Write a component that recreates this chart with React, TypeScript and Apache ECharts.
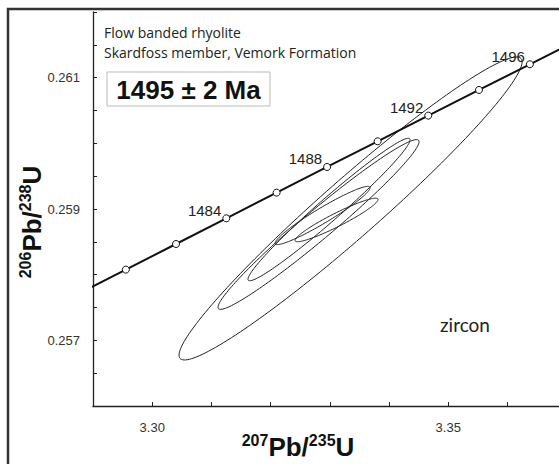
import React, { useEffect, useRef } from "react";
import * as echarts from "echarts";

// Concordia ages (Ma) and their ratio coordinates
const ages = [1478, 1480, 1482, 1484, 1486, 1488, 1490, 1492, 1494, 1496, 1498];
const concX = [3.28709, 3.29555, 3.30402, 3.31251, 3.32101, 3.32953, 3.33807, 3.34662, 3.35519, 3.36378, 3.37238];
const concY = [0.257687, 0.258077, 0.258467, 0.258858, 0.259249, 0.25964, 0.260031, 0.260422, 0.260813, 0.261204, 0.261595];
const labelAges = [1484, 1488, 1492, 1496];

// Error ellipses: centre, half extent in x and y, correlation
const ellX = [3.3335, 3.32809, 3.32986, 3.32877, 3.33113];
const ellY = [0.259008, 0.258764, 0.258992, 0.258901, 0.258833];
const ellDX = [0.02897, 0.016976, 0.013682, 0.008024, 0.00701];
const ellDY = [0.0023071, 0.0012926, 0.0010848, 0.0004436, 0.0003315];
const ellRho = [0.968, 0.975, 0.978, 0.953, 0.94];

const xLabels = [3.3, 3.35];
const yLabels = [0.257, 0.259, 0.261];

export default function App() {
  const ref = useRef<HTMLDivElement>(null);
  useEffect(() => {
    if (!ref.current) return;
    const chart = echarts.init(ref.current, undefined, { renderer: "svg" });
    const lineData = ages.map((a, i) => ({
      value: [concX[i], concY[i]],
      symbol: a === 1478 || a === 1498 ? "none" : "circle",
      label: {
        show: labelAges.includes(a),
        formatter: String(a),
      },
    }));
    const ellData = ellX.map((x, i) => [x, ellY[i], ellDX[i], ellDY[i], ellRho[i]]);
    const rich = {
      a: { fontSize: 16, fontWeight: "bold", fontFamily: "Liberation Sans", fill: "#111", lineHeight: 16, verticalAlign: "top" },
      b: { fontSize: 26, fontWeight: "bold", fontFamily: "Liberation Sans", fill: "#111", lineHeight: 30 },
    };
    const option: any = {
      animation: false,
      grid: { left: 93, top: 12, right: 0, bottom: 58 },
      xAxis: {
        type: "value",
        min: 3.29,
        max: 3.3687,
        interval: 0.01,
        axisLine: { show: true, onZero: false, lineStyle: { color: "#222", width: 1.3 } },
        axisTick: { show: true, inside: true, length: 4, lineStyle: { color: "#222" } },
        splitLine: { show: false },
        axisLabel: {
          margin: 15,
          fontSize: 13,
          color: "#333",
          fontFamily: "Liberation Sans",
          showMaxLabel: false,
          formatter: (v: number) =>
            xLabels.some((l) => Math.abs(l - v) < 1e-6) ? v.toFixed(2) : "",
        },
      },
      yAxis: {
        type: "value",
        min: 0.256,
        max: 0.262,
        interval: 0.0005,
        axisLine: { show: true, onZero: false, lineStyle: { color: "#222", width: 1.3 } },
        axisTick: { show: true, inside: true, length: 4, lineStyle: { color: "#222" } },
        splitLine: { show: false },
        axisLabel: {
          margin: 13,
          fontSize: 13,
          color: "#333",
          fontFamily: "Liberation Sans",
          formatter: (v: number) =>
            yLabels.some((l) => Math.abs(l - v) < 1e-7) ? v.toFixed(3) : "",
        },
      },
      series: [
        {
          type: "custom",
          encode: { x: 0, y: 1 },
          data: ellData,
          renderItem: (params: any, api: any) => {
            const cx = api.value(0);
            const cy = api.value(1);
            const dx = api.value(2);
            const dy = api.value(3);
            const r = api.value(4);
            const s = Math.sqrt(1 - r * r);
            const pts: number[][] = [];
            const n = 180;
            for (let k = 0; k < n; k++) {
              const t = (2 * Math.PI * k) / n;
              pts.push(
                api.coord([cx + dx * Math.cos(t), cy + dy * (r * Math.cos(t) + s * Math.sin(t))])
              );
            }
            return {
              type: "polygon",
              shape: { points: pts },
              style: { fill: "none", stroke: "#222", lineWidth: 1 },
            };
          },
          z: 2,
        },
        {
          type: "line",
          data: lineData,
          symbolSize: 7,
          itemStyle: { color: "#fff", borderColor: "#111", borderWidth: 1 },
          lineStyle: { color: "#111", width: 2 },
          label: {
            position: "left",
            distance: 1,
            offset: [0, -8],
            fontSize: 15,
            color: "#222",
            fontFamily: "Liberation Sans",
          },
          z: 3,
        },
      ],
      graphic: [
        {
          type: "rect",
          shape: { x: 8, y: 9, width: 620, height: 520 },
          style: { fill: "none", stroke: "#333", lineWidth: 2.5 },
          z: 10,
        },
        {
          type: "text",
          x: 104,
          y: 32,
          style: {
            text: "Flow banded rhyolite",
            font: "14px 'Open Sans'",
            fill: "#222",
            verticalAlign: "middle",
          },
        },
        {
          type: "text",
          x: 104,
          y: 52,
          style: {
            text: "Skardfoss member, Vemork Formation",
            font: "14px 'Open Sans'",
            fill: "#222",
            verticalAlign: "middle",
          },
        },
        {
          type: "rect",
          shape: { x: 107, y: 72, width: 163, height: 34 },
          style: { fill: "#fff", stroke: "#bbb", lineWidth: 1 },
        },
        {
          type: "text",
          x: 188.5,
          y: 89.5,
          style: {
            text: "1495 ± 2 Ma",
            font: "bold 26px Liberation Sans",
            fill: "#111",
            align: "center",
            verticalAlign: "middle",
          },
        },
        {
          type: "text",
          x: 440,
          y: 324,
          style: {
            text: "zircon",
            font: "19px Lato",
            fill: "#222",
            verticalAlign: "middle",
          },
        },
        {
          type: "text",
          x: 298,
          y: 447,
          style: {
            text: "{a|207}{b|Pb/}{a|235}{b|U}",
            align: "center",
            verticalAlign: "middle",
            rich,
          },
        },
        {
          type: "text",
          x: 32,
          y: 222,
          rotation: Math.PI / 2,
          style: {
            text: "{a|206}{b|Pb/}{a|238}{b|U}",
            align: "center",
            verticalAlign: "middle",
            rich,
          },
        },
      ],
    };
    chart.setOption(option);
    return () => chart.dispose();
  }, []);
  return (
    <div
      ref={ref}
      style={{ position: "fixed", left: 0, top: 0, width: 559, height: 464, background: "#fff" }}
    />
  );
}
